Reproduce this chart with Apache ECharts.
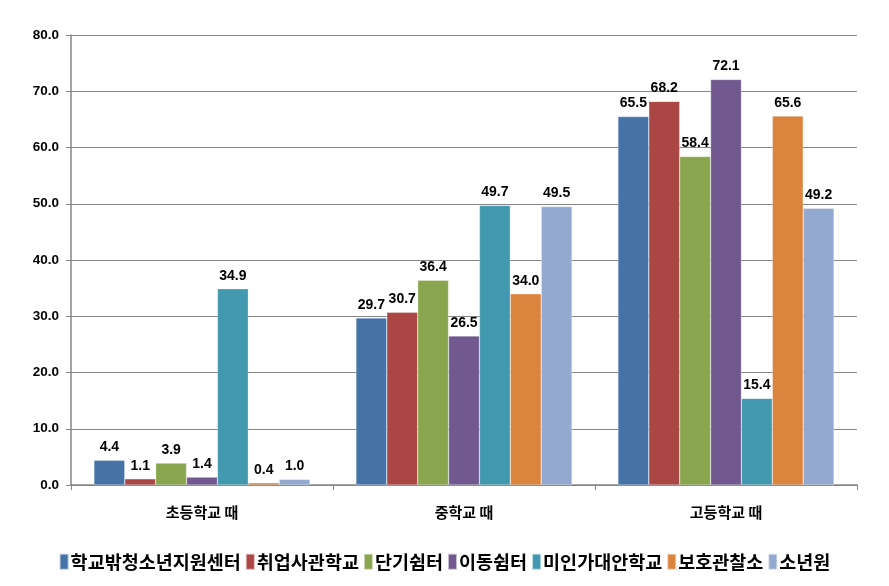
<!DOCTYPE html>
<html><head><meta charset="utf-8">
<script src="https://cdn.jsdelivr.net/npm/echarts@6/dist/echarts.min.js"></script>
<style>html,body{margin:0;padding:0;background:#fff}#c{width:889px;height:586px}</style>
</head><body><div id="c"></div>
<script>
const categories = ['초등학교 때', '중학교 때', '고등학교 때'];
const seriesNames = ['학교밖청소년지원센터', '취업사관학교', '단기쉼터', '이동쉼터', '미인가대안학교', '보호관찰소', '소년원'];
const s1 = [4.4, 29.7, 65.5];
const s2 = [1.1, 30.7, 68.2];
const s3 = [3.9, 36.4, 58.4];
const s4 = [1.4, 26.5, 72.1];
const s5 = [34.9, 49.7, 15.4];
const s6 = [0.4, 34.0, 65.6];
const s7 = [1.0, 49.5, 49.2];
const values = [s1, s2, s3, s4, s5, s6, s7];
const colors = ['#4572A7', '#AA4643', '#89A54E', '#71588F', '#4198AF', '#DB843D', '#93A9CF'];
const yTicks = { min: 0, max: 80, interval: 10 };

const chart = echarts.init(document.getElementById('c'));
const font = '"Noto Sans CJK KR", "Noto Sans", sans-serif';
chart.setOption({
  animation: false,
  textStyle: { fontFamily: font },
  grid: { left: 71, right: 32, top: 35, bottom: 101, containLabel: false },
  legend: {
    bottom: 10, left: 'center', itemGap: 4, itemWidth: 9, itemHeight: 16,
    icon: 'rect',
    textStyle: { fontSize: 18.5, fontWeight: 'bold', color: '#000', fontFamily: font, padding: [0, 0, 0, -3] },
    data: seriesNames
  },
  xAxis: {
    type: 'category', data: categories,
    axisLine: { lineStyle: { color: '#868686', width: 1.5 } },
    axisTick: { show: true, length: 5, alignWithLabel: false, lineStyle: { color: '#868686' } },
    axisLabel: { fontSize: 15, fontWeight: 'bold', color: '#000', margin: 20, fontFamily: font }
  },
  yAxis: {
    type: 'value', min: yTicks.min, max: yTicks.max, interval: yTicks.interval,
    axisLine: { show: true, lineStyle: { color: '#868686', width: 1.5 } },
    axisTick: { show: true, length: 5, inside: false, lineStyle: { color: '#868686' } },
    splitLine: { lineStyle: { color: '#868686', width: 1 } },
    axisLabel: { fontSize: 13.5, fontWeight: 'bold', color: '#000', margin: 12, fontFamily: 'Liberation Sans, sans-serif',
      formatter: v => v.toFixed(1) }
  },
  series: seriesNames.map((n, i) => ({
    name: n, type: 'bar', data: values[i],
    barGap: '0%', barCategoryGap: '17.5%',
    itemStyle: { color: colors[i], borderColor: 'rgba(255,255,255,0.6)', borderWidth: 0.5 },
    label: { show: true, position: 'top', distance: 6, fontSize: 14, fontWeight: 'bold', color: '#000',
      fontFamily: 'Liberation Sans, sans-serif', formatter: p => p.value.toFixed(1) }
  }))
});
</script></body></html>
